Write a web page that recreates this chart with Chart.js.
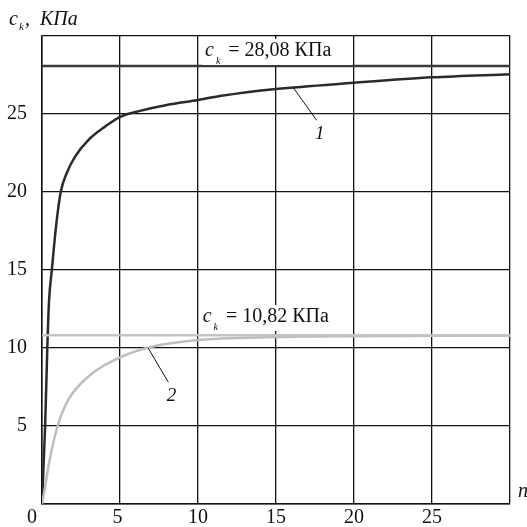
<!DOCTYPE html>
<html>
<head>
<meta charset="utf-8">
<script src="https://cdn.jsdelivr.net/npm/chart.js@4.4.0/dist/chart.umd.min.js"></script>
<style>
  html, body { margin: 0; padding: 0; background: #fff; }
  #wrap { width: 527px; height: 527px; }
</style>
</head>
<body>
<div id="wrap"><canvas id="chart"></canvas></div>
<script>
// ── Data ────────────────────────────────────
const curve1N = [0, 0.2, 0.34, 0.45, 0.63, 0.9, 1.2, 1.58, 2.12, 2.97, 4.04, 5.04, 6.28, 8, 10, 11.4, 15, 20, 25, 30];
const curve1C = [0, 5, 10, 13, 15, 17.8, 20, 21.2, 22.27, 23.33, 24.19, 24.83, 25.2, 25.58, 25.9, 26.15, 26.6, 27.0, 27.35, 27.55];

const curve2N = [0, 0.2, 0.41, 1.0, 1.7, 3.0, 4.7, 6.7, 9.9, 15, 20, 25, 30];
const curve2C = [0, 1.1, 2.4, 5, 6.7, 8.2, 9.25, 10, 10.5, 10.7, 10.76, 10.78, 10.8];

const limit1 = 28.08;
const limit2 = 10.82;
const xRange = [0, 30];

const xTickLabels = ['0', '5', '10', '15', '20', '25'];
const yTickLabels = ['5', '10', '15', '20', '25'];

const SERIF = '"Liberation Serif", "DejaVu Serif", serif';

function toPoints(xs, ys) {
    return xs.map((x, i) => ({ x: x, y: ys[i] }));
}

// ── Annotation plugin ───────────────────────

function drawCk(ctx, x, y, rest, size) {
    ctx.textBaseline = 'alphabetic';
    ctx.textAlign = 'left';
    ctx.font = 'italic ' + size + 'px ' + SERIF;
    ctx.fillText('c', x, y);
    let w = ctx.measureText('c').width;
    ctx.font = 'italic 10px ' + SERIF;
    ctx.fillText('k', x + w + 2, y + 8);
    w += 2 + ctx.measureText('k').width;
    ctx.font = size + 'px ' + SERIF;
    ctx.fillText(rest, x + w + 8, y);
}

const annotations = {
    id: 'annotations',
    afterDatasetsDraw(chart) {
        const ctx = chart.ctx;
        const xs = chart.scales.x;
        const ys = chart.scales.y;
        ctx.save();

        // limit labels with white backing (n, baseline value)
        [[10.45, 28.72, '= 28,08 КПа'], [10.3, 11.67, '= 10,82 КПа']].forEach(([n, c, txt]) => {
            const px = xs.getPixelForValue(n);
            const py = ys.getPixelForValue(c);
            ctx.fillStyle = '#fff';
            ctx.fillRect(px - 3, py - 17, 150, 26);
            ctx.fillStyle = '#111';
            drawCk(ctx, px, py, txt, 20);
        });

        // leader lines
        ctx.strokeStyle = '#111';
        ctx.lineWidth = 1;
        [[16.1, 26.7, 17.6, 24.6], [6.8, 10.0, 8.1, 7.8]].forEach(([a, b, c, d]) => {
            ctx.beginPath();
            ctx.moveTo(xs.getPixelForValue(a), ys.getPixelForValue(b));
            ctx.lineTo(xs.getPixelForValue(c), ys.getPixelForValue(d));
            ctx.stroke();
        });
        ctx.fillStyle = '#111';
        ctx.font = 'italic 19px ' + SERIF;
        ctx.textAlign = 'center';
        ctx.textBaseline = 'middle';
        ctx.fillText('1', xs.getPixelForValue(17.8), ys.getPixelForValue(23.7));
        ctx.fillText('2', xs.getPixelForValue(8.3), ys.getPixelForValue(6.9));

        // axis titles
        ctx.textAlign = 'left';
        ctx.textBaseline = 'alphabetic';
        ctx.font = 'italic 20px ' + SERIF;
        ctx.fillText('c', 9, 25);
        ctx.font = 'italic 11px ' + SERIF;
        ctx.fillText('k', 19, 30);
        ctx.font = 'italic 20px ' + SERIF;
        ctx.fillText(',', 25, 25);
        ctx.fillText('КПа', 40, 25);
        ctx.fillText('n', 518, 497);
        ctx.restore();
    }
};

// ── Chart ───────────────────────────────────

new Chart(document.getElementById('chart'), {
    type: 'scatter',
    data: {
        datasets: [
            {
                data: xRange.map(x => ({ x: x, y: limit2 })),
                showLine: true, borderColor: '#c4c4c4', borderWidth: 2.5, pointRadius: 0
            },
            {
                data: xRange.map(x => ({ x: x, y: limit1 })),
                showLine: true, borderColor: '#3a3a3a', borderWidth: 2.5, pointRadius: 0
            },
            {
                data: toPoints(curve2N, curve2C),
                showLine: true, borderColor: '#bdbdbd', borderWidth: 2.5, pointRadius: 0,
                cubicInterpolationMode: 'monotone'
            },
            {
                data: toPoints(curve1N, curve1C),
                showLine: true, borderColor: '#2a2a2a', borderWidth: 2.5, pointRadius: 0,
                cubicInterpolationMode: 'monotone'
            }
        ]
    },
    options: {
        responsive: true,
        maintainAspectRatio: false,
        animation: false,
        layout: { padding: { top: 36, right: 17, left: 0, bottom: 0 } },
        scales: {
            x: {
                type: 'linear', min: 0, max: 30,
                afterFit: s => { s.height = 23; },
                border: { color: '#111', width: 1.5 },
                grid: { color: '#111', lineWidth: 1.3, drawTicks: false },
                ticks: {
                    stepSize: 5, padding: 2, color: '#111',
                    font: { family: SERIF, size: 20 },
                    maxRotation: 0,
                    callback: v => {
                        const s = String(v);
                        if (!xTickLabels.includes(s)) return '';
                        if (s === '0') return s + '\u2003';
                        if (s === '5') return s + ' ';
                        return s;
                    }
                }
            },
            y: {
                type: 'linear', min: 0, max: 30,
                afterFit: s => { s.width = 42; },
                border: { color: '#111', width: 1.5 },
                grid: { color: '#111', lineWidth: 1.3, drawTicks: false },
                ticks: {
                    stepSize: 5, padding: 15, color: '#111',
                    font: { family: SERIF, size: 20, lineHeight: 0.8 },
                    callback: v => yTickLabels.includes(String(v)) ? String(v) : ''
                }
            }
        },
        plugins: {
            legend: { display: false },
            tooltip: { enabled: false }
        }
    },
    plugins: [annotations]
});
</script>
</body>
</html>
